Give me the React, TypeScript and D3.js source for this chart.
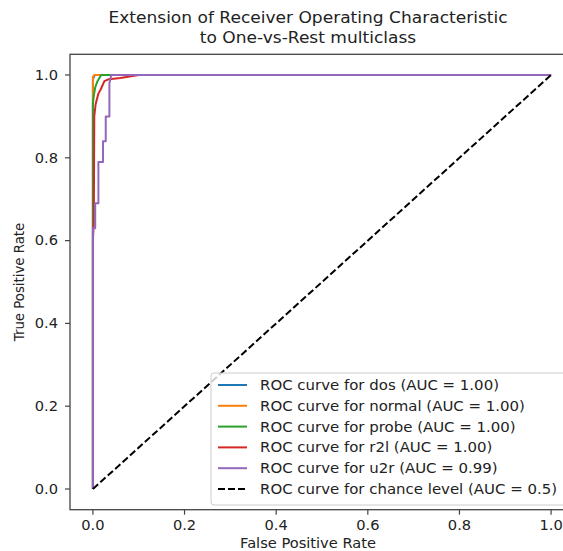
import React from "react";
import * as d3 from "d3";

const classNames = ["dos", "normal", "probe", "r2l", "u2r"];
const aucLabels = ["1.00", "1.00", "1.00", "1.00", "0.99"];
const colors = ["#1f77b4", "#ff7f0e", "#2ca02c", "#d62728", "#9467bd"];

const fprDos = [0, 0, 0.004, 1];
const tprDos = [0, 0.99, 1, 1];
const fprNormal = [0, 0, 0.003, 1];
const tprNormal = [0, 0.995, 1, 1];
const fprProbe = [0, 0, 0.002, 0.005, 0.01, 0.018, 1];
const tprProbe = [0, 0.93, 0.95, 0.97, 0.985, 1, 1];
const fprR2l = [0, 0, 0.002, 0.003, 0.006, 0.012, 0.017, 0.025, 0.035, 0.06, 0.1, 1];
const tprR2l = [0, 0.6, 0.65, 0.9, 0.93, 0.955, 0.965, 0.985, 0.99, 0.993, 1, 1];
const fprU2r = [0, 0, 0.005, 0.005, 0.012, 0.012, 0.022, 0.022, 0.028, 0.028, 0.036, 0.036, 0.04, 1];
const tprU2r = [0, 0.63, 0.63, 0.69, 0.69, 0.79, 0.79, 0.84, 0.84, 0.9, 0.9, 0.98, 1, 1];

const fprs = [fprDos, fprNormal, fprProbe, fprR2l, fprU2r];
const tprs = [tprDos, tprNormal, tprProbe, tprR2l, tprU2r];

const chanceX = [0, 1];
const chanceY = [0, 1];
const ticks = [0, 0.2, 0.4, 0.6, 0.8, 1.0];

const W = 563;
const H = 551;
const left = 70;
const right = 574;
const top = 54.3;
const bottom = 509.7;
const SX = 1.1;
const font = "'DejaVu Sans', sans-serif";

function T(props: { x: number; y: number; size: number; anchor?: string; rotate?: number; children: React.ReactNode }) {
  const { x, y, size, anchor, rotate, children } = props;
  const tr = `translate(${x},${y}) scale(${SX},1)` + (rotate ? ` rotate(${rotate})` : "");
  return (
    <text transform={tr} fontSize={size} textAnchor={anchor || "start"} fill="#222" fontFamily={font}>
      {children}
    </text>
  );
}

export default function App() {
  const x = d3.scaleLinear().domain([-0.05, 1.05]).range([left, right]);
  const y = d3.scaleLinear().domain([-0.05, 1.05]).range([bottom, top]);
  const line = d3
    .line<[number, number]>()
    .x((d) => x(d[0]))
    .y((d) => y(d[1]));
  const fs = 13.3;

  const legendItems = classNames.map((c, i) => ({
    label: `ROC curve for ${c} (AUC = ${aucLabels[i]})`,
    color: colors[i],
    dash: undefined as string | undefined,
  }));
  legendItems.push({
    label: "ROC curve for chance level (AUC = 0.5)",
    color: "#000",
    dash: "7,3",
  });
  const lgX = 211;
  const lgY = 373;
  const rowH = 20.8;
  const cx = (left + right) / 2 - 14;

  return (
    <div style={{ position: "fixed", left: 0, top: 0 }}>
      <svg width={W} height={H} style={{ display: "block", background: "#fff" }} fontFamily={font}>
        <rect x={0} y={0} width={W} height={H} fill="#fff" />
        <T x={cx} y={23} size={15.5} anchor="middle">Extension of Receiver Operating Characteristic</T>
        <T x={cx} y={43} size={15.5} anchor="middle">to One-vs-Rest multiclass</T>
        <clipPath id="clip">
          <rect x={left} y={top} width={right - left} height={bottom - top} />
        </clipPath>
        <g clipPath="url(#clip)">
          {fprs.map((f, i) => (
            <path
              key={i}
              d={line(f.map((v, j) => [v, tprs[i][j]]) as [number, number][]) || ""}
              fill="none"
              stroke={colors[i]}
              strokeWidth={2}
              strokeLinejoin="round"
            />
          ))}
          <path
            d={line(chanceX.map((v, j) => [v, chanceY[j]]) as [number, number][]) || ""}
            fill="none"
            stroke="#000"
            strokeWidth={2}
            strokeDasharray="7,3"
          />
        </g>
        <rect x={left} y={top} width={right - left} height={bottom - top} fill="none" stroke="#444" strokeWidth={1.3} />
        {ticks.map((t) => (
          <g key={"x" + t}>
            <line x1={x(t)} x2={x(t)} y1={bottom} y2={bottom + 5} stroke="#444" strokeWidth={1.2} />
            <T x={x(t)} y={bottom + 20} size={fs} anchor="middle">{t.toFixed(1)}</T>
          </g>
        ))}
        {ticks.map((t) => (
          <g key={"y" + t}>
            <line x1={left - 5} x2={left} y1={y(t)} y2={y(t)} stroke="#444" strokeWidth={1.2} />
            <T x={left - 12} y={y(t) + 4.8} size={fs} anchor="end">{t.toFixed(1)}</T>
          </g>
        ))}
        <T x={cx} y={548} size={fs} anchor="middle">False Positive Rate</T>
        <T x={24} y={(top + bottom) / 2} size={fs} anchor="middle" rotate={-90}>True Positive Rate</T>
        <rect
          x={lgX}
          y={lgY}
          width={right - 7 - lgX}
          height={132}
          rx={3}
          fill="#fff"
          fillOpacity={0.8}
          stroke="#ccc"
          strokeWidth={1}
        />
        {legendItems.map((it, i) => {
          const cy = lgY + 12 + i * rowH;
          return (
            <g key={it.label}>
              <line
                x1={lgX + 7}
                x2={lgX + 36}
                y1={cy}
                y2={cy}
                stroke={it.color}
                strokeWidth={2}
                strokeDasharray={it.dash}
              />
              <T x={lgX + 49} y={cy + 5} size={13.6}>{it.label}</T>
            </g>
          );
        })}
      </svg>
    </div>
  );
}
